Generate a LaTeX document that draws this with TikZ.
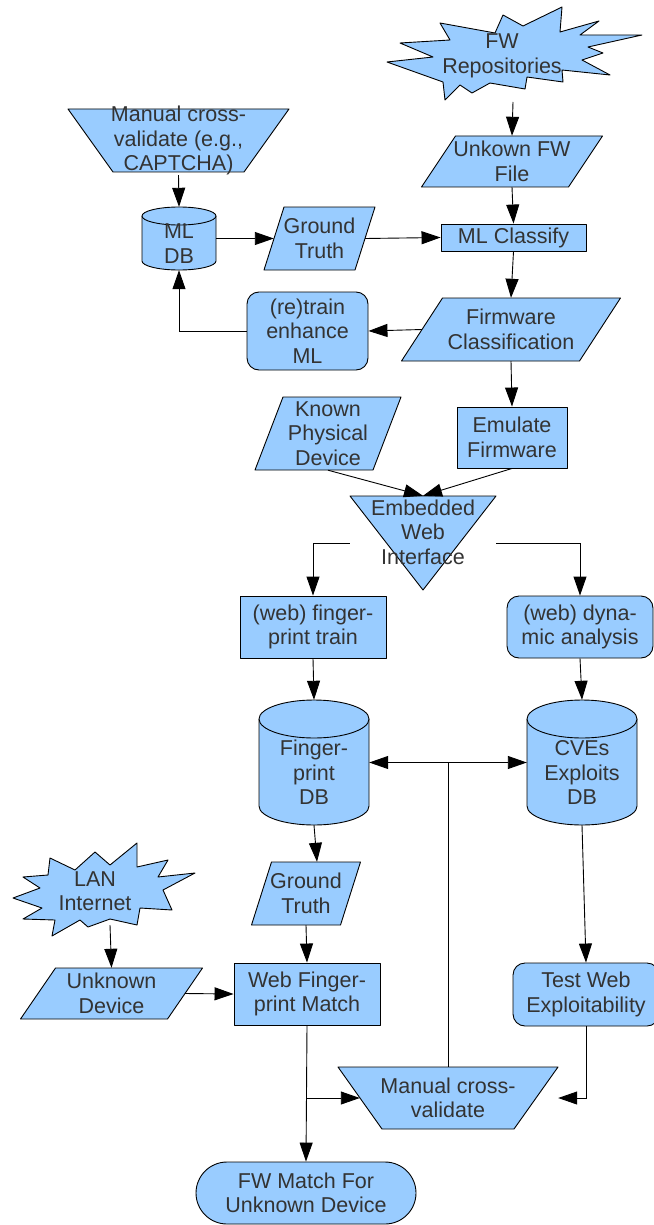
\documentclass[tikz,border=0pt]{standalone}
\usepackage{fontspec}
\setmainfont{Liberation Sans}
\usetikzlibrary{arrows.meta,calc}
\definecolor{boxfill}{HTML}{99CCFF}
\definecolor{ink}{HTML}{333333}

\tikzset{
  shp/.style={draw=black, fill=boxfill, line width=0.9pt, line join=round},
  lbl/.style={align=center, text=ink, font=\fontsize{21.5}{24.5}\selectfont, inner sep=0pt},
  box/.style={shp, lbl, rectangle},
  rbox/.style={box, rounded corners=12pt},
  conn/.style={line width=0.9pt, draw=black},
  arr/.style={conn, -{Triangle[length=19pt,width=13pt]}},
}

% parallelogram: name, cx, cy, mid width, height, half slant, text
\newcommand\paranode[7]{%
  \filldraw[shp] ({#2-#4/2+#6},{#3-#5/2}) -- ({#2+#4/2+#6},{#3-#5/2})
    -- ({#2+#4/2-#6},{#3+#5/2}) -- ({#2-#4/2-#6},{#3+#5/2}) -- cycle;
  \node[lbl, minimum width=#4pt, minimum height=#5pt] (#1) at (#2,#3) {#7};}

% trapezoid, wide side up: name, cx, cy, top width, height, bottom inset, text
\newcommand\trapnode[7]{%
  \filldraw[shp] ({#2-#4/2},{#3-#5/2}) -- ({#2+#4/2},{#3-#5/2})
    -- ({#2+#4/2-#6},{#3+#5/2}) -- ({#2-#4/2+#6},{#3+#5/2}) -- cycle;
  \node[lbl, minimum width=#4pt, minimum height=#5pt] (#1) at (#2,#3) {#7};}

% database cylinder: name, cx, cy, width, height, rim radius, text drop, text
\newcommand\cylnode[8]{%
  \filldraw[shp] ({#2-#4/2},{#3-#5/2+#6}) -- ({#2-#4/2},{#3+#5/2-#6})
    .. controls ({#2-#4/2},{#3+#5/2-0.448*#6}) and ({#2-0.276*#4},{#3+#5/2}) .. ({#2},{#3+#5/2})
    .. controls ({#2+0.276*#4},{#3+#5/2}) and ({#2+#4/2},{#3+#5/2-0.448*#6}) .. ({#2+#4/2},{#3+#5/2-#6})
    -- ({#2+#4/2},{#3-#5/2+#6});
  \filldraw[shp] ({#2},{#3-#5/2+#6}) ellipse [x radius=#4/2, y radius=#6];
  \node[lbl, minimum width=#4pt, minimum height=#5pt,
        label={[lbl,yshift=-#7pt]center:{#8}}] (#1) at (#2,#3) {};}

\begin{document}
\begin{tikzpicture}[x=1pt,y=-1pt]
\useasboundingbox (0,0) rectangle (653,1225);

% ---- firmware side ----
\filldraw[shp] (440,23) -- (495,33) -- (503,15) -- (523,26) -- (562,7) -- (560,32)
  -- (599,21) -- (580,35) -- (642,35) -- (588,47) -- (603,53) -- (582,60) -- (610,75)
  -- (562,70) -- (563,82) -- (527,77) -- (525,89) -- (490,83) -- (472,93) -- (460,85)
  -- (445,100) -- (443,82) -- (387,62) -- (433,57) -- (400,43) -- (450,40) -- cycle;
\node[lbl] (fwrep) at (502,56) {FW\\Repositories};
\coordinate (fwrepout) at (513,102);

\paranode{unkfw}{512}{161.5}{147}{51}{17}{Unkown FW\\File}
\node[box, minimum width=145pt, minimum height=27pt] (mlcls) at (513.5,237.5) {ML Classify};
\paranode{fwcls}{511}{329.5}{178}{63}{20.5}{Firmware\\Classification}
\node[rbox, minimum width=121pt, minimum height=78pt] (retrain) at (307.5,331) {(re)train\\enhance\\ML};

\trapnode{captcha}{178.5}{140.5}{221}{63}{45}{Manual cross-\\validate (e.g.,\\CAPTCHA)}
\cylnode{mldb}{179}{238.5}{74}{63}{9}{5}{ML\\DB}
\paranode{gt1}{319.5}{238.5}{91}{63}{10}{Ground\\Truth}

\paranode{known}{328}{433.5}{118}{73}{14}{Known\\Physical\\Device}
\node[box, minimum width=110pt, minimum height=61pt] (emul) at (512,437.5) {Emulate\\Firmware};

% embedded web interface (inverted triangle)
\filldraw[shp] (350,496) -- (496,496) -- (423,590) -- cycle;
\node[lbl, minimum width=146pt, minimum height=94pt,
      label={[lbl,yshift=11pt]center:{Embedded\\Web\\Interface}}] (ewi) at (423,543) {};

\node[box, minimum width=146pt, minimum height=62pt] (fptrain) at (313,627) {(web) finger-\\print train};
\node[rbox, minimum width=146pt, minimum height=62pt] (dyn) at (580,627) {(web) dyna-\\mic analysis};

\cylnode{fpdb}{314}{762.5}{110}{125}{19}{10}{Finger-\\print\\DB}
\cylnode{cvedb}{582}{762.5}{110}{125}{19}{10}{CVEs\\Exploits\\DB}

\paranode{gt2}{306}{893.5}{89}{63}{10}{Ground\\Truth}

% ---- device side ----
\filldraw[shp] (50,858) -- (75,870) -- (95,852) -- (110,865) -- (137,843) -- (137,867)
  -- (168,860) -- (158,877) -- (195,873) -- (163,890) -- (172,910) -- (140,908)
  -- (137,925) -- (110,919) -- (88,927) -- (80,920) -- (52,936) -- (55,920)
  -- (23,919) -- (42,908) -- (13,898) -- (40,888) -- (23,877) -- (48,875) -- cycle;
\node[lbl] (lan) at (95,891) {LAN\\Internet};
\coordinate (lanout) at (110,925);

\paranode{unkdev}{111.5}{993.5}{147}{51}{17.5}{Unknown\\Device}
\node[box, minimum width=146pt, minimum height=62pt] (wfm) at (307,994) {Web Finger-\\print Match};
\node[rbox, minimum width=146pt, minimum height=63pt] (testweb) at (586,994.5) {Test Web\\Exploitability};

\trapnode{mcv}{448}{1098}{220}{62}{44}{Manual cross-\\validate}
\node[box, rounded corners=31pt, minimum width=220pt, minimum height=62pt] (fwmatch) at (306,1193) {FW Match For\\Unknown Device};

% ---- connectors ----
\draw[arr] (fwrepout) -- (unkfw.north);
\draw[arr] (unkfw.south) -- (mlcls.north);
\draw[arr] (captcha.south) -- (mldb.north);
\draw[arr] (mldb.east) -- (gt1.west);
\draw[arr] (gt1.east) -- (mlcls.west);
\draw[arr] (mlcls.south) -- (fwcls.north);
\draw[arr] (fwcls.west) -- (retrain.east);
\draw[arr] (retrain.west) -| (mldb.south);
\draw[arr] (fwcls.south) -- (emul.north);
\draw[arr] (known.south) -- (ewi.north);
\draw[arr] (emul.south) -- (ewi.north);
\draw[arr] (ewi.west) -| (fptrain.north);
\draw[arr] (ewi.east) -| (dyn.north);
\draw[arr] (fptrain.south) -- (fpdb.north);
\draw[arr] (dyn.south) -- (cvedb.north);

\coordinate (junc) at (mcv.north |- fpdb.east);
\draw[conn] (mcv.north) -- (junc);
\draw[arr] (junc) -- (fpdb.east);
\draw[arr] (junc) -- (cvedb.west);

\draw[arr] (fpdb.south) -- ([xshift=11pt]gt2.north);
\draw[arr] (gt2.south) -- (wfm.north);
\draw[arr] (lanout) -- (unkdev.north);
\draw[arr] (unkdev.east) -- (wfm.west);
\draw[arr] (cvedb.south) -- (testweb.north);
\draw[arr] (testweb.south) |- (mcv.east);
\draw[arr] (wfm.south) -- (fwmatch.north);
\coordinate (branch) at (wfm.south |- mcv.west);
\draw[arr] (branch) -- ($(mcv.west)+(22,0)$);
\end{tikzpicture}
\end{document}
